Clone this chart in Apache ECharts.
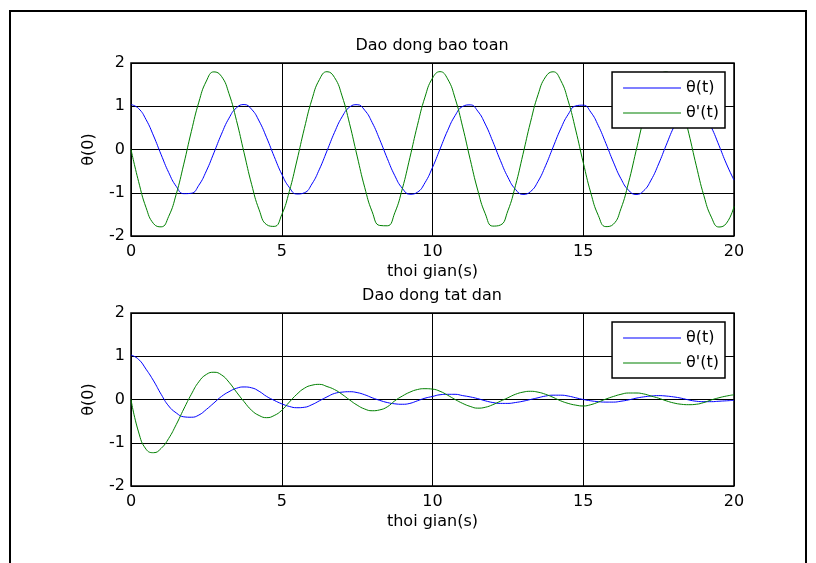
<!DOCTYPE html>
<html>
<head>
<meta charset="utf-8" />
<script src="https://cdn.jsdelivr.net/npm/echarts@6/dist/echarts.min.js"></script>
<style>
  html, body { margin: 0; padding: 0; background: #fff; }
  #main { width: 816px; height: 563px; }
</style>
</head>
<body>
<div id="main"></div>
<script>
// thoi gian (s), lay mau moi 0.25 s
var times = [0,0.25,0.5,0.75,1,1.25,1.5,1.75,2,2.25,2.5,2.75,3,3.25,3.5,3.75,4,4.25,4.5,4.75,
  5,5.25,5.5,5.75,6,6.25,6.5,6.75,7,7.25,7.5,7.75,8,8.25,8.5,8.75,9,9.25,9.5,9.75,
  10,10.25,10.5,10.75,11,11.25,11.5,11.75,12,12.25,12.5,12.75,13,13.25,13.5,13.75,14,14.25,14.5,14.75,
  15,15.25,15.5,15.75,16,16.25,16.5,16.75,17,17.25,17.5,17.75,18,18.25,18.5,18.75,19,19.25,19.5,19.75,20];

// Dao dong bao toan
var thetaBT = [1.04,0.949,0.691,0.313,-0.120,-0.532,-0.852,-1.021,-1.012,-0.826,-0.495,-0.077,0.355,0.724,0.966,
  1.039,0.930,0.658,0.271,-0.164,-0.570,-0.876,-1.029,-1.001,-0.798,-0.455,-0.033,0.396,0.754,0.981,
  1.036,0.910,0.623,0.228,-0.207,-0.606,-0.899,-1.034,-0.988,-0.769,-0.415,0.011,0.436,0.784,0.995,
  1.032,0.888,0.588,0.185,-0.250,-0.641,-0.920,-1.038,-0.974,-0.739,-0.375,0.055,0.475,0.812,1.007,
  1.025,0.864,0.551,0.142,-0.292,-0.675,-0.940,-1.040,-0.958,-0.707,-0.334,0.099,0.514,0.839,1.017,
  1.017,0.839,0.513,0.098,-0.334,-0.708];
var dthetaBT = [0,-0.737,-1.345,-1.716,-1.788,-1.546,-1.033,-0.339,0.414,1.095,1.583,1.795,1.692,1.292,0.667,
  -0.076,-0.805,-1.394,-1.738,-1.778,-1.506,-0.970,-0.265,0.487,1.154,1.618,1.799,1.665,1.239,0.595,
  -0.152,-0.873,-1.441,-1.756,-1.764,-1.463,-0.905,-0.189,0.560,1.211,1.650,1.800,1.634,1.183,0.523,
  -0.228,-0.938,-1.485,-1.771,-1.747,-1.417,-0.839,-0.113,0.632,1.266,1.679,1.797,1.601,1.124,0.450,
  -0.303,-1.002,-1.526,-1.783,-1.727,-1.369,-0.771,-0.037,0.703,1.320,1.705,1.792,1.565,1.064,0.376,
  -0.377,-1.065,-1.565,-1.792,-1.705,-1.319];

// Dao dong tat dan
var thetaTD = [1.03,0.93,0.70,0.43,0.12,-0.15,-0.31,-0.40,-0.41,-0.36,-0.23,-0.08,0.07,0.18,0.26,0.29,0.27,0.19,0.07,-0.02,
  -0.10,-0.16,-0.19,-0.18,-0.12,-0.03,0.06,0.14,0.17,0.18,0.16,0.11,0.04,-0.02,-0.07,-0.10,-0.11,-0.09,-0.03,0.03,
  0.07,0.11,0.12,0.12,0.09,0.06,0.02,-0.03,-0.07,-0.09,-0.09,-0.07,-0.04,0.00,0.04,0.08,0.10,0.10,0.08,0.04,
  0.00,-0.03,-0.05,-0.06,-0.06,-0.04,-0.01,0.03,0.06,0.08,0.09,0.08,0.06,0.03,-0.01,-0.04,-0.05,-0.05,-0.04,-0.03,-0.02];
var dthetaTD = [0,-0.75,-1.15,-1.23,-1.13,-0.90,-0.58,-0.22,0.12,0.41,0.58,0.63,0.57,0.40,0.17,-0.05,-0.25,-0.37,-0.42,-0.37,
  -0.25,-0.06,0.12,0.26,0.33,0.35,0.30,0.23,0.12,-0.01,-0.13,-0.22,-0.26,-0.24,-0.17,-0.03,0.08,0.17,0.23,0.25,
  0.24,0.19,0.10,0.00,-0.09,-0.16,-0.20,-0.18,-0.12,-0.04,0.04,0.12,0.17,0.19,0.17,0.12,0.05,-0.03,-0.09,-0.13,
  -0.15,-0.12,-0.06,0.01,0.07,0.12,0.15,0.15,0.13,0.08,0.03,-0.03,-0.08,-0.11,-0.12,-0.11,-0.07,-0.01,0.04,0.08,0.11];

var titles = ['Dao dong bao toan', 'Dao dong tat dan'];
var xTicks = [0, 20, 5];   // min, max, interval
var yTicks = [-2, 2, 1];
var names = ['θ(t)', "θ'(t)"];

function pairs(vals) {
  var out = [];
  for (var i = 0; i < times.length; i++) out.push([times[i], vals[i]]);
  return out;
}

var font = 'DejaVu Sans, Verdana, sans-serif';
var tops = [63, 313];
var plotH = 173;

var chart = echarts.init(document.getElementById('main'), null, { renderer: 'canvas' });

function xAxisOf(i) {
  return {
    gridIndex: i, type: 'value', min: xTicks[0], max: xTicks[1], interval: xTicks[2],
    name: 'thoi gian(s)', nameLocation: 'middle', nameGap: 28,
    nameTextStyle: { color: '#000', fontSize: 16, fontFamily: font },
    axisLine: { show: false },
    axisTick: { show: false },
    axisLabel: { color: '#000', fontSize: 16, fontFamily: font, margin: 8 },
    splitLine: { show: true, lineStyle: { color: '#000', width: 1, type: 'solid' } }
  };
}
function yAxisOf(i) {
  return {
    gridIndex: i, type: 'value', min: yTicks[0], max: yTicks[1], interval: yTicks[2],
    name: 'θ(0)', nameLocation: 'middle', nameGap: 34, nameRotate: 90,
    nameTextStyle: { color: '#000', fontSize: 16, fontFamily: font },
    axisLine: { show: false },
    axisTick: { show: false },
    axisLabel: { color: '#000', fontSize: 16, fontFamily: font, margin: 6 },
    splitLine: { show: true, lineStyle: { color: '#000', width: 1, type: 'solid' } }
  };
}
function legendOf(i) {
  return {
    data: names, orient: 'vertical', right: 91, top: tops[i] + 9,
    icon: 'rect', itemWidth: 58, itemHeight: 1, itemGap: 9,
    backgroundColor: '#fff', borderColor: '#000', borderWidth: 1.5, borderRadius: 0,
    padding: [8, 6, 7, 11],
    textStyle: { color: '#000', fontSize: 16, fontFamily: font },
    selectedMode: false
  };
}
function lineOf(i, k, vals) {
  var c = k === 0 ? '#0000ff' : '#008000';
  return {
    name: names[k], type: 'line', xAxisIndex: i, yAxisIndex: i,
    data: pairs(vals), symbol: 'none', smooth: true, animation: false,
    lineStyle: { color: c, width: 1 },
    itemStyle: { color: c }
  };
}

chart.setOption({
  backgroundColor: '#fff',
  animation: false,
  title: titles.map(function (t, i) {
    return { text: t, left: 432, top: tops[i] - 25, textAlign: 'center', padding: 0,
      textStyle: { color: '#000', fontSize: 16, fontWeight: 'normal', fontFamily: font } };
  }),
  grid: tops.map(function (t) {
    return { left: 131, right: 82, top: t, height: plotH, show: true,
      borderColor: '#000', borderWidth: 1.5, backgroundColor: 'transparent' };
  }),
  xAxis: [xAxisOf(0), xAxisOf(1)],
  yAxis: [yAxisOf(0), yAxisOf(1)],
  legend: [legendOf(0), legendOf(1)],
  graphic: [{
    type: 'rect', silent: true,
    shape: { x: 10, y: 11, width: 796, height: 600 },
    style: { fill: 'none', stroke: '#000', lineWidth: 2 }
  }],
  series: [
    lineOf(0, 0, thetaBT), lineOf(0, 1, dthetaBT),
    lineOf(1, 0, thetaTD), lineOf(1, 1, dthetaTD)
  ]
});
</script>
</body>
</html>
